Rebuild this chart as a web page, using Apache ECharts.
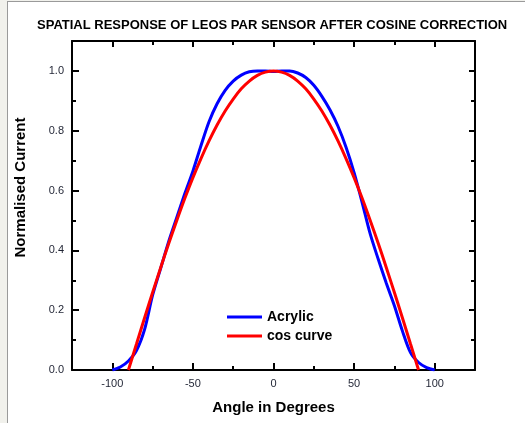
<!DOCTYPE html>
<html>
<head>
<meta charset="utf-8">
<script src="https://cdn.jsdelivr.net/npm/echarts@6/dist/echarts.min.js"></script>
<style>
  html, body { margin: 0; padding: 0; background: #f1f1ec; }
  #paper { position: absolute; left: 7px; top: 1px; width: 518px; height: 422px;
           background: #fff; border-left: 1px solid #9a9a9a; border-top: 1px solid #9a9a9a; }
  #chart { position: absolute; left: 0; top: 0; width: 525px; height: 423px; }
</style>
</head>
<body>
<div id="paper"></div>
<div id="chart"></div>
<script>
// angle (deg) / normalised current
const acrylicAngles = [-100, -95, -90, -85, -80, -75, -70, -65, -60, -55, -50, -45, -40, -35, -30, -25, -20, -15, -10, -5, 0,
    5, 10, 15, 20, 25, 30, 35, 40, 45, 50, 55, 60, 65, 70, 75, 80, 85, 90, 95, 100];
const acrylicValues = [0.0, 0.01, 0.03, 0.065, 0.135, 0.25, 0.34, 0.43, 0.51, 0.59, 0.665, 0.75, 0.83, 0.89, 0.935, 0.966, 0.986, 0.997, 1.0, 1.0, 0.998,
    1.0, 1.0, 0.993, 0.978, 0.952, 0.915, 0.87, 0.815, 0.745, 0.66, 0.56, 0.455, 0.37, 0.29, 0.215, 0.13, 0.058, 0.025, 0.008, 0.0];

const cosAngles = [-90, -85, -80, -75, -70, -65, -60, -55, -50, -45, -40, -35, -30, -25, -20, -15, -10, -5, 0,
    5, 10, 15, 20, 25, 30, 35, 40, 45, 50, 55, 60, 65, 70, 75, 80, 85, 90];
const cosValues = [0.0, 0.087, 0.174, 0.259, 0.342, 0.423, 0.5, 0.574, 0.643, 0.707, 0.766, 0.819, 0.866, 0.906, 0.94, 0.966, 0.985, 0.996, 1.0,
    0.996, 0.985, 0.966, 0.94, 0.906, 0.866, 0.819, 0.766, 0.707, 0.643, 0.574, 0.5, 0.423, 0.342, 0.259, 0.174, 0.087, 0.0];

const xMajor = [-100, -50, 0, 50, 100];
const xMinor = [-75, -25, 25, 75];
const yMajor = [0, 0.2, 0.4, 0.6, 0.8, 1.0];
const yMinor = [0.1, 0.3, 0.5, 0.7, 0.9];

const FONT = 'Liberation Sans';
const axisLine = { show: true, onZero: false, lineStyle: { color: '#000', width: 2 } };
const noLine = { show: false, onZero: false };

function pairs(xs, ys) {
    return xs.map(function (x, i) { return [x, ys[i]]; });
}

function xAx(position, ticks, len, labels, line) {
    return {
        type: 'value', position: position, min: -125, max: 125,
        axisLine: line ? axisLine : noLine,
        splitLine: { show: false },
        axisTick: { show: true, inside: true, length: len, customValues: ticks,
                    lineStyle: { color: '#000', width: 2 } },
        axisLabel: labels ? { show: true, customValues: ticks, margin: 8, fontSize: 11,
                              color: '#1f2333', fontFamily: FONT } : { show: false }
    };
}

function yAx(position, ticks, len, labels, line) {
    return {
        type: 'value', position: position, min: 0, max: 1.1,
        axisLine: line ? axisLine : noLine,
        splitLine: { show: false },
        axisTick: { show: true, inside: true, length: len, customValues: ticks,
                    lineStyle: { color: '#000', width: 2 } },
        axisLabel: labels ? { show: true, customValues: ticks, margin: 8, fontSize: 11,
                              color: '#1f2333', fontFamily: FONT,
                              formatter: function (v) { return v.toFixed(1); } } : { show: false }
    };
}

const xMain = xAx('bottom', xMajor, 7, true, true);
xMain.name = 'Angle in Degrees';
xMain.nameLocation = 'middle';
xMain.nameGap = 30;
xMain.nameTextStyle = { fontSize: 15, fontWeight: 'bold', color: '#000', fontFamily: FONT };

const yMain = yAx('left', yMajor, 7, true, true);
yMain.name = 'Normalised Current';
yMain.nameLocation = 'middle';
yMain.nameGap = 44;
yMain.nameTextStyle = { fontSize: 15, fontWeight: 'bold', color: '#000', fontFamily: FONT,
                        padding: [0, 0, 0, 36] };

const chart = echarts.init(document.getElementById('chart'));

const option = {
    animation: false,
    backgroundColor: 'transparent',
    title: {
        text: 'SPATIAL RESPONSE OF LEOS PAR SENSOR AFTER COSINE CORRECTION',
        left: 37, top: 19, padding: 0,
        textStyle: { fontSize: 13, fontWeight: 'bold', color: '#000', fontFamily: FONT }
    },
    grid: { left: 72, right: 50, top: 41, bottom: 53 },
    legend: {
        orient: 'vertical', left: 227, top: 310, itemGap: 5, padding: 0,
        itemWidth: 35, itemHeight: 3, icon: 'rect',
        textStyle: { fontSize: 14, fontWeight: 'bold', color: '#000', fontFamily: FONT, lineHeight: 14 },
        data: ['Acrylic', 'cos curve']
    },
    xAxis: [
        xMain,
        xAx('bottom', xMinor, 4, false, false),
        xAx('top', xMajor, 6, false, true),
        xAx('top', xMinor, 4, false, false)
    ],
    yAxis: [
        yMain,
        yAx('left', yMinor, 4, false, false),
        yAx('right', yMajor, 6, false, true),
        yAx('right', yMinor, 4, false, false)
    ],
    series: [
        {
            name: 'Acrylic', type: 'line', smooth: 0.3, showSymbol: false,
            data: pairs(acrylicAngles, acrylicValues),
            itemStyle: { color: '#0000ff' },
            lineStyle: { color: '#0000ff', width: 3 }
        },
        {
            name: 'cos curve', type: 'line', smooth: 0.3, showSymbol: false,
            data: pairs(cosAngles, cosValues),
            itemStyle: { color: '#ff0000' },
            lineStyle: { color: '#ff0000', width: 3 }
        }
    ]
};

chart.setOption(option);
</script>
</body>
</html>
